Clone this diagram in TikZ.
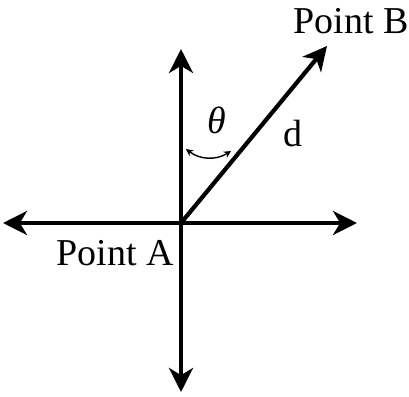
\documentclass[tikz,border=0pt]{standalone}
\usepackage{fontspec}
\setmainfont{Liberation Serif}
\usetikzlibrary{arrows.meta, positioning}

\begin{document}
\begin{tikzpicture}[
    x=0.025cm, y=-0.025cm,
    axis/.style={{Stealth[length=17pt, width=17pt, inset=5pt]}-{Stealth[length=17pt, width=17pt, inset=5pt]}, line width=3pt},
    vec/.style={-{Stealth[length=17pt, width=17pt, inset=5pt]}, line width=3pt},
    angarrow/.style={{Stealth[length=5pt, width=5pt, inset=1.5pt]}-{Stealth[length=5pt, width=5pt, inset=1.5pt]}, line width=1pt},
    lbl/.style={inner sep=0pt, font=\fontsize{27pt}{30pt}\selectfont}
]
\useasboundingbox (0,0) rectangle (409,396);

% Axes
\coordinate (A) at (181,223);
\coordinate (top) at (181,49);
\coordinate (bottom) at (181,392);
\coordinate (left) at (3,223);
\coordinate (right) at (357,223);
\draw[axis] (bottom) -- (top);
\draw[axis] (left) -- (right);

% Vector d
\coordinate (B) at (327,46);
\draw[vec] (A) -- (B);

% Angle
\coordinate (th1) at (186,149);
\coordinate (th2) at (231,151);
\draw[angarrow] (th1) to[bend right=35] (th2);

% Labels
\node[lbl] (labB) at (351,21) {Point B};
\node[lbl] (labA) at (115,253) {Point A};
\node[lbl] (labd) at (293,134) {d};
\node[lbl] (labth) at (217,120) {\textit{θ}};

\end{tikzpicture}
\end{document}
